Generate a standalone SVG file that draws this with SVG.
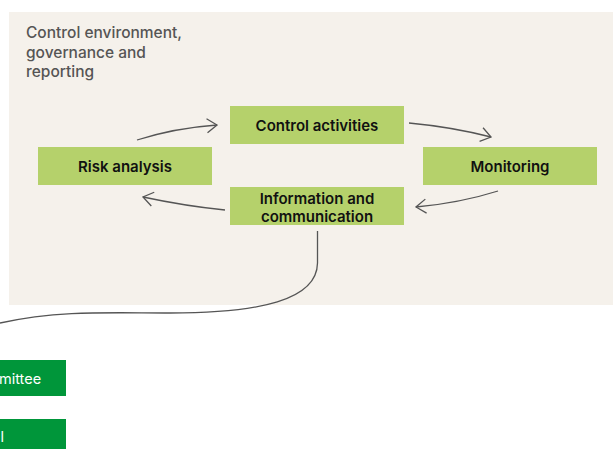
<svg xmlns="http://www.w3.org/2000/svg" width="613" height="449" viewBox="0 0 613 449">
<defs>
<style>
.bg{fill:#f5f1eb}
.box{fill:#b5d16b}
.dbox{fill:#00963a}
.lbl{font-family:Inter,"Liberation Sans",sans-serif;font-weight:600;font-size:15px;fill:#111;text-anchor:middle}
.title{font-family:Inter,"Liberation Sans",sans-serif;font-weight:500;font-size:15.5px;fill:#555}
.wt{font-family:Inter,"Liberation Sans",sans-serif;font-weight:400;font-size:14.5px;fill:#fff}
.conn{fill:none;stroke:#555;stroke-width:1.3}
</style>
<marker id="chev" viewBox="0 0 12 16" refX="11" refY="8" markerWidth="12" markerHeight="16" markerUnits="userSpaceOnUse" orient="auto">
<path d="M1,1 L11,8 L1,15" fill="none" stroke="#555" stroke-width="1.3"/>
</marker>
</defs>
<rect class="bg" x="9" y="12" width="604" height="293"/>
<g id="title">
<text class="title" x="26" y="38">Control environment,</text>
<text class="title" x="26" y="58">governance and</text>
<text class="title" x="26" y="77">reporting</text>
</g>
<g id="connectors">
<path class="conn" d="M137,140 Q175,128 217,125" marker-end="url(#chev)"/>
<path class="conn" d="M409,123 Q452,127 491,137" marker-end="url(#chev)"/>
<path class="conn" d="M498,191 Q460,203 416,207" marker-end="url(#chev)"/>
<path class="conn" d="M225,210 Q185,206 143,197" marker-end="url(#chev)"/>
<path class="conn" d="M317.5,231 L317.5,263 C317,300 260,313 170,313 C110,313 60,310 0,323"/>
</g>
<g id="control-activities">
<rect class="box" x="230" y="106" width="174" height="38"/>
<text class="lbl" x="317" y="131">Control activities</text>
</g>
<g id="risk-analysis">
<rect class="box" x="38" y="147" width="174" height="38"/>
<text class="lbl" x="125" y="172">Risk analysis</text>
</g>
<g id="monitoring">
<rect class="box" x="423" y="147" width="174" height="38"/>
<text class="lbl" x="510" y="172">Monitoring</text>
</g>
<g id="information-communication">
<rect class="box" x="230" y="187" width="174" height="38"/>
<text class="lbl" x="317" y="204">Information and</text>
<text class="lbl" x="317" y="222">communication</text>
</g>
<g id="committee">
<rect class="dbox" x="-10" y="360" width="76" height="36"/>
<text class="wt" x="-1" y="384">mittee</text>
</g>
<g id="second">
<rect class="dbox" x="-10" y="419" width="76" height="40"/>
<text class="wt" x="0.5" y="442">l</text>
</g>
</svg>
